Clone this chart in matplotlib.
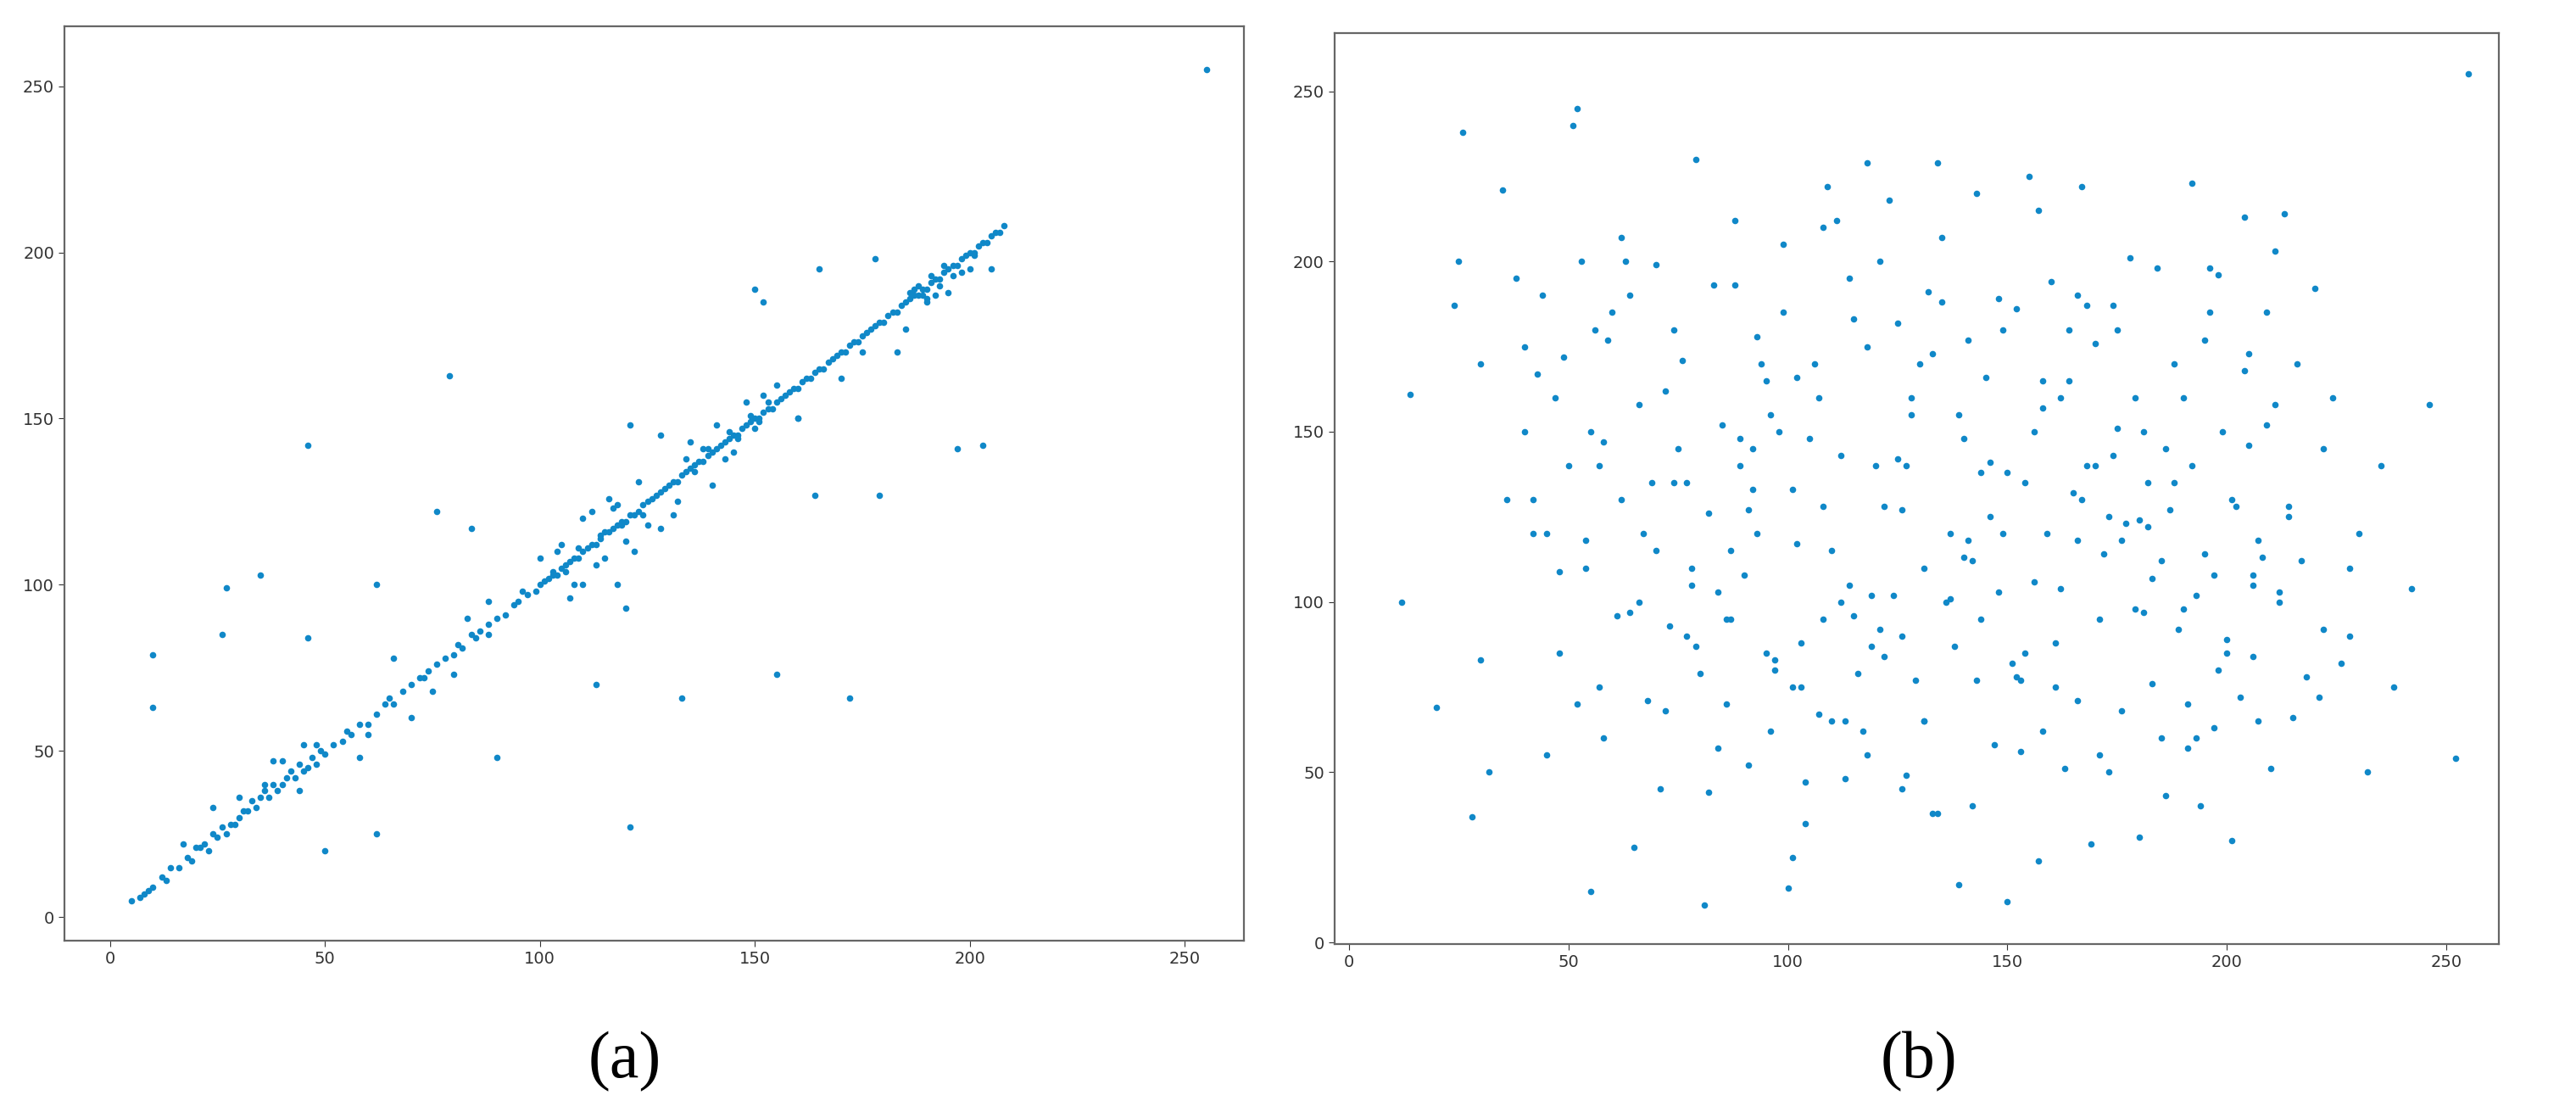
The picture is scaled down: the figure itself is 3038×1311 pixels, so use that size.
import matplotlib
matplotlib.use("Agg")
import matplotlib.pyplot as plt

# Panel (a): points near the diagonal plus outliers
a_x = [5,7,8,9,10,12,13,14,16,18,19,20,21,22,23,24,25,26,27,28,29,30,31,32,33,34,35,36,37,38,39,40,41,42,43,44,45,46,47,48,49,50,52,54,55,56,58,60,62,64,65,66,68,70,72,73,74,76,78,80,81,82,84,85,86,88,90,92,94,95,97,99,100,101,102,103,104,105,106,107,108,109,110,111,112,113,114,115,116,117,118,119,120,121,122,123,124,125,126,127,128,129,130,131,132,133,134,135,136,137,138,139,140,141,142,143,144,145,146,147,148,149,150,151,152,153,154,155,156,157,158,159,160,161,162,163,164,165,166,167,168,169,170,171,172,173,174,175,176,177,178,179,180,181,182,183,184,185,186,187,188,189,190,191,192,193,194,195,196,197,198,199,200,201,202,203,204,205,206,207,208,
       105,108,112,115,118,120,122,125,110,113,117,128,131,104,107,116,123,141,145,148,152,135,138,143,150,155,160,170,175,185,188,192,196,200,60,70,75,80,83,88,40,44,48,36,30,24,17,
       255,79,46,10,10,27,35,26,46,62,62,50,90,121,133,155,172,76,84,121,164,179,197,203,150,152,165,178,190,120,113,45,38,58,100,110,140,160,183,195,205,132,128,118,96,88,66,
       134,136,139,144,146,149,151,153,187,189,191,193,194,198,201,186,190,103,106,109,114,119,124]
a_y = [5,6,7,8,9,12,11,15,15,18,17,21,21,22,20,25,24,27,25,28,28,30,32,32,35,33,36,38,36,40,38,40,42,44,42,46,44,45,48,46,50,49,52,53,56,55,58,58,61,64,66,64,68,70,72,72,74,76,78,79,82,81,85,84,86,88,90,91,94,95,97,98,100,101,102,103,103,105,106,107,108,108,110,111,112,112,114,116,116,117,118,119,119,121,121,122,124,125,126,127,128,129,130,131,131,133,134,135,136,137,137,139,140,141,142,143,144,145,145,147,148,149,150,150,152,153,153,155,156,157,158,159,159,161,162,162,164,165,165,167,168,169,170,170,172,173,173,175,176,177,178,179,179,181,182,182,184,185,186,187,187,189,189,191,192,192,194,195,196,196,198,199,200,200,202,203,203,205,206,206,208,
       112,100,122,108,124,113,110,118,120,106,123,117,121,110,96,126,131,148,140,155,157,143,141,138,147,160,150,162,170,177,190,187,193,195,55,60,68,73,90,85,47,38,52,40,36,33,22,
       255,163,142,79,63,99,103,85,84,100,25,20,48,27,66,73,66,122,117,148,127,127,141,142,189,185,195,198,185,93,70,52,47,48,108,100,130,150,170,188,195,125,145,100,98,95,78,
       138,134,141,146,144,151,149,155,189,187,193,190,196,194,199,188,186,104,104,111,115,118,121]

# Panel (b): widely scattered points
b_x = [12,14,20,24,26,28,30,32,35,38,40,42,44,45,47,48,50,51,52,53,54,55,56,57,58,60,62,64,65,66,68,70,71,72,74,75,77,78,79,80,81,82,83,85,86,87,88,89,90,91,92,93,94,95,96,97,98,99,100,101,102,103,104,105,106,107,108,109,110,111,112,113,114,115,116,117,118,119,120,121,122,123,124,125,126,127,128,129,130,131,132,133,134,135,136,137,138,139,140,141,142,143,144,145,146,147,148,149,150,151,152,153,154,155,156,157,158,159,160,161,162,163,164,165,166,167,168,169,170,171,172,173,174,175,176,177,178,179,180,181,182,183,184,185,186,187,188,189,190,191,192,193,194,195,196,197,198,199,200,201,202,203,204,205,206,207,208,209,210,211,212,213,214,215,216,218,220,222,224,226,228,230,232,235,238,242,246,252,255,
       30,36,43,48,52,58,63,67,73,76,84,88,92,97,101,104,108,112,118,122,126,131,135,139,144,148,153,157,162,166,171,175,181,186,191,196,201,206,211,
       25,40,55,62,70,78,86,95,103,110,118,126,134,142,150,158,166,174,182,190,198,206,214,222,
       45,57,69,82,93,107,119,131,143,156,168,180,193,205,217,228,
       49,61,74,87,99,113,125,137,149,161,173,185,197,209,221,
       54,66,79,91,102,115,127,140,152,164,176,188,200,212,
       42,59,72,84,96,108,121,133,146,158,170,183,195,207,
       64,77,89,101,114,128,141,154,167,179,192,204]
b_y = [100,161,69,187,238,37,170,50,221,195,150,120,190,55,160,85,140,240,245,200,110,15,180,140,60,185,207,97,28,100,71,199,45,162,180,145,90,110,230,79,11,126,193,152,70,95,212,140,108,52,133,120,170,165,62,80,150,205,16,25,117,88,35,148,170,67,95,222,115,212,143,48,195,183,79,62,229,102,140,200,84,218,102,182,127,49,155,77,170,65,191,38,229,207,100,120,87,17,148,177,40,220,95,166,141,58,189,120,12,82,186,56,135,225,106,24,157,120,194,75,104,51,165,132,71,222,140,29,176,95,114,50,187,151,68,123,201,160,31,150,135,76,198,112,43,127,170,92,160,57,223,102,40,114,185,63,196,150,89,30,128,72,213,173,105,65,113,185,51,158,103,214,125,66,170,78,192,145,160,82,110,120,50,140,75,104,158,54,255,
       83,130,167,109,70,147,200,120,93,171,57,193,145,83,133,47,210,100,175,128,90,65,188,155,138,103,77,215,160,118,55,180,97,145,70,198,130,84,203,
       200,175,150,130,115,105,95,85,75,65,55,45,38,112,138,165,190,143,122,98,80,108,128,92,
       120,75,135,44,178,160,87,110,77,150,187,124,60,146,112,90,
       172,96,135,115,185,65,142,101,180,88,125,60,108,152,72,
       118,158,87,127,166,96,140,113,78,180,118,135,85,100,
       130,177,68,103,155,128,92,173,125,62,140,107,177,118,
       190,135,148,75,105,160,118,85,130,98,140,168]

col = '#1088c8'
fig = plt.figure(figsize=(30.38, 13.11), dpi=100)
ax1 = fig.add_axes([0.025, 0.154, 0.458, 0.822])
ax2 = fig.add_axes([0.518, 0.151, 0.452, 0.819])

ax1.scatter(a_x, a_y, s=30, c=col, linewidths=0)
ax1.set_xlim(-10.6, 263.8); ax1.set_ylim(-7.1, 267.9)
ax2.scatter(b_x, b_y, s=30, c=col, linewidths=0)
ax2.set_xlim(-3.3, 261.9); ax2.set_ylim(-0.5, 267)
for ax in (ax1, ax2):
    ax.set_xticks([0, 50, 100, 150, 200, 250])
    ax.set_yticks([0, 50, 100, 150, 200, 250])
    ax.tick_params(labelsize=14, length=5, colors='#333333')
    for s in ax.spines.values():
        s.set_color('#666666')
        s.set_linewidth(1.6)

fig.text(0.2425, 0.045, '(a)', ha='center', va='center', fontsize=56, family='Liberation Serif')
fig.text(0.745, 0.045, '(b)', ha='center', va='center', fontsize=56, family='Liberation Serif')
fig.savefig('out.png', dpi=100)
